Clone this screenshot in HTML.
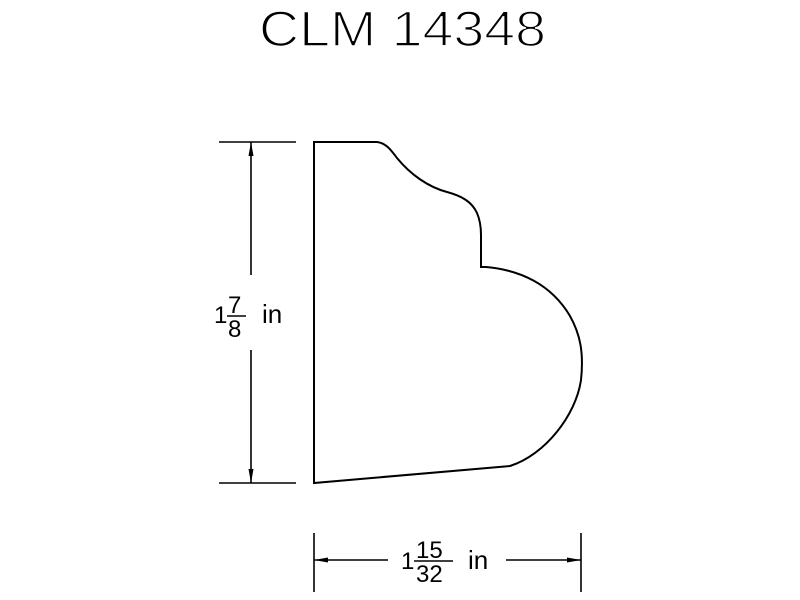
<!DOCTYPE html>
<html><head><style>html,body{margin:0;padding:0;background:#fff;}svg{display:block}</style></head>
<body>
<svg width="800" height="600" viewBox="0 0 800 600" xmlns="http://www.w3.org/2000/svg">
<rect width="800" height="600" fill="#fff"/>
<text x="259" y="46" font-family="Liberation Sans, sans-serif" font-size="50" textLength="287" lengthAdjust="spacingAndGlyphs" fill="#000" stroke="#fff" stroke-width="1.6">CLM 14348</text>
<g fill="none" stroke="#000" stroke-width="2">
<path d="M314,142 L377,142 C386,143 391,150 397,158 C410,174 428,187 447,192 C462,196 472,202 477,213 C480,220 481,226 481,235 L481,267 L486,267 C520,270 551,284 570,316 C580,334 584,352 581,380 C576,415 545,455 510,466 L314,483 Z"/>
<g stroke-width="1.6">
<line x1="219" y1="142" x2="296" y2="142"/>
<line x1="219" y1="483" x2="296" y2="483"/>
<line x1="251" y1="142" x2="251" y2="275"/>
<line x1="251" y1="350" x2="251" y2="483"/>
<line x1="314" y1="533" x2="314" y2="592"/>
<line x1="581" y1="533" x2="581" y2="592"/>
<line x1="314" y1="560" x2="388" y2="560"/>
<line x1="506" y1="560" x2="581" y2="560"/>
</g>
</g>
<g fill="#000">
<polygon points="251,142 248.5,156 253.5,156"/>
<polygon points="251,483 248.5,469 253.5,469"/>
<polygon points="314,560 328,557.5 328,562.5"/>
<polygon points="581,560 567,557.5 567,562.5"/>
</g>
<g font-family="Liberation Sans, sans-serif" fill="#000">
<text x="214" y="323" font-size="24">1</text>
<text x="228" y="313" font-size="24">7</text>
<line x1="227" y1="316" x2="246" y2="316" stroke="#000" stroke-width="1.5"/>
<text x="228" y="337" font-size="24">8</text>
<text x="262" y="323" font-size="26">in</text>
<text x="401" y="569" font-size="24">1</text>
<text x="416" y="558" font-size="24">15</text>
<line x1="414" y1="561" x2="453" y2="561" stroke="#000" stroke-width="1.5"/>
<text x="416" y="582" font-size="24">32</text>
<text x="468" y="569" font-size="26">in</text>
</g>
</svg>
</body></html>
